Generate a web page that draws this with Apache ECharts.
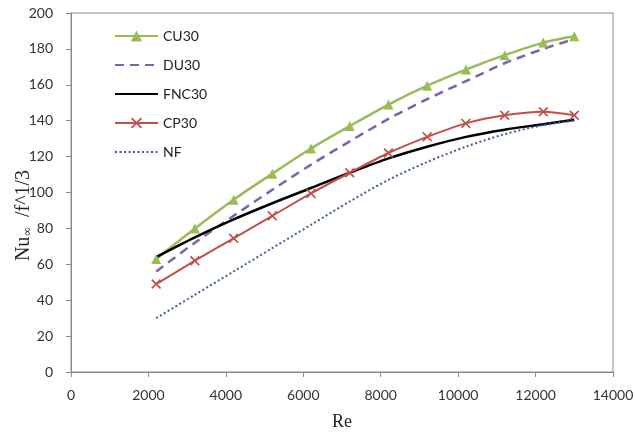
<!DOCTYPE html>
<html>
<head>
<meta charset="utf-8">
<script src="https://cdn.jsdelivr.net/npm/echarts@6/dist/echarts.min.js"></script>
<style>
html,body{margin:0;padding:0;background:#fff;}
#chart{width:635px;height:436px;}
</style>
</head>
<body>
<div id="chart"></div>
<script>
var reValues = [2200, 3200, 4200, 5200, 6200, 7200, 8200, 9200, 10200, 11200, 12200, 13000];
var cu30 = [63, 80, 96, 110.5, 124.5, 137, 149, 159.5, 168.5, 176.5, 183.5, 187];
var du30 = [56, 72, 87, 101.5, 115.5, 128.5, 141, 152, 162, 172, 180, 185.5];
var fnc30 = [64, 75, 85, 94, 102.5, 111, 119, 125.5, 131, 135, 138, 140.5];
var cp30 = [49, 62, 74.5, 87, 99.5, 111, 122, 131, 138.5, 143, 145, 143];
var nf = [30, 43, 56, 69, 82, 95, 107, 117, 125.5, 132.5, 137.5, 140];
var seriesNames = ['CU30', 'DU30', 'FNC30', 'CP30', 'NF'];

function pairs(ys) { return reValues.map(function (x, i) { return [x, ys[i]]; }); }

var xSym = 'path://M0,1.2L1.2,0L5,3.8L8.8,0L10,1.2L6.2,5L10,8.8L8.8,10L5,6.2L1.2,10L0,8.8L3.8,5Z';

var chart = echarts.init(document.getElementById('chart'), null, {renderer: 'canvas'});
chart.setOption({
  animation: false,
  backgroundColor: '#fff',
  grid: {left: 71, right: 22, top: 13, bottom: 64, show: true, borderColor: '#8a8a8a', borderWidth: 1,
         containLabel: false, outerBoundsMode: 'none'},
  legend: {
    data: [
      {name: 'CU30'},
      {name: 'DU30', itemStyle: {opacity: 0}},
      {name: 'FNC30', itemStyle: {opacity: 0}},
      {name: 'CP30'},
      {name: 'NF', itemStyle: {opacity: 0}}
    ],
    orient: 'vertical',
    left: 109, top: 24,
    itemWidth: 43, itemHeight: 14, itemGap: 15,
    textStyle: {fontFamily: 'Lato', fontSize: 14, color: '#222'}
  },
  xAxis: {
    type: 'value', min: 0, max: 14000, interval: 2000,
    name: 'Re', nameLocation: 'middle', nameGap: 41, nameMoveOverlap: false,
    nameTextStyle: {fontFamily: 'Liberation Serif', fontSize: 18, color: '#222'},
    axisLine: {show: true, lineStyle: {color: '#8a8a8a', width: 1}},
    axisTick: {show: true, inside: false, length: 5, lineStyle: {color: '#8a8a8a'}},
    axisLabel: {fontFamily: 'Lato', fontSize: 14, color: '#333', margin: 16,
                formatter: function (v) { return String(v); }},
    splitLine: {show: false}
  },
  yAxis: {
    type: 'value', min: 0, max: 200, interval: 20,
    name: '{a|Nu}{b|\u221e}{c|/f^1/3}', nameLocation: 'middle', nameGap: 37, nameMoveOverlap: false,
    nameTextStyle: {
      padding: [0, 46, 0, 0],
      rich: {
        a: {fontFamily: 'Liberation Serif', fontSize: 20, color: '#222'},
        b: {fontFamily: 'Liberation Serif', fontSize: 12, color: '#222', verticalAlign: 'bottom', padding: [9, 2, 0, 1]},
        c: {fontFamily: 'Liberation Serif', fontSize: 20, color: '#222', padding: [0, 0, 0, 8]}
      }
    },
    axisLine: {show: true, lineStyle: {color: '#8a8a8a', width: 1}},
    axisTick: {show: true, inside: false, length: 5, lineStyle: {color: '#8a8a8a'}},
    axisLabel: {fontFamily: 'Lato', fontSize: 14, color: '#333', margin: 18},
    splitLine: {show: false}
  },
  series: [
    {name: 'CU30', type: 'line', data: pairs(cu30), smooth: 0.3,
     symbol: 'triangle', symbolSize: 10, showAllSymbol: true,
     itemStyle: {color: '#9bbb59'}, lineStyle: {color: '#9bbb59', width: 2.5}},
    {name: 'DU30', type: 'line', data: pairs(du30), smooth: 0.3,
     symbol: 'none',
     itemStyle: {color: '#7f62a8'}, lineStyle: {color: '#7f62a8', width: 2.5, type: [9, 6]}},
    {name: 'FNC30', type: 'line', data: pairs(fnc30), smooth: 0.3,
     symbol: 'none',
     itemStyle: {color: '#000'}, lineStyle: {color: '#000', width: 2.5}},
    {name: 'CP30', type: 'line', data: pairs(cp30), smooth: 0.3,
     symbol: xSym, symbolSize: 10, showAllSymbol: true,
     itemStyle: {color: '#c0504d'}, lineStyle: {color: '#c0504d', width: 2}},
    {name: 'NF', type: 'line', data: pairs(nf), smooth: 0.3,
     symbol: 'none',
     itemStyle: {color: '#3e5f98'}, lineStyle: {color: '#3e5f98', width: 2, type: [2, 2.5]}}
  ]
});
</script>
</body>
</html>
